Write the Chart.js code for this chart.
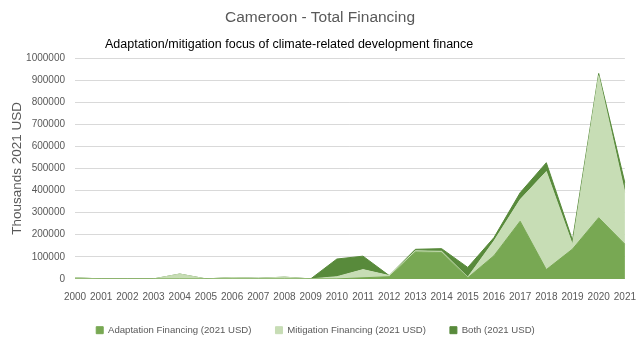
<!DOCTYPE html>
<html>
<head>
<meta charset="utf-8">
<script src="https://cdn.jsdelivr.net/npm/chart.js@4"></script>
<style>
  html, body { margin: 0; padding: 0; background: #fff; }
  #wrap { position: relative; width: 640px; height: 342px; font-family: "Liberation Sans", sans-serif; }
  #title { position: absolute; top: 8px; left: 0; width: 640px; text-align: center; font-size: 15.5px; color: #595959; }
  #subtitle { position: absolute; top: 37px; left: 105px; font-size: 12.5px; color: #000; }
  canvas { position: absolute; top: 0; left: 0; }
</style>
</head>
<body>
<div id="wrap">
  <canvas id="chart" width="640" height="342"></canvas>
  <div id="title">Cameroon - Total Financing</div>
  <div id="subtitle">Adaptation/mitigation focus of climate-related development finance</div>
</div>
<script>
const years = ['2000', '2001', '2002', '2003', '2004', '2005', '2006', '2007', '2008', '2009', '2010',
  '2011', '2012', '2013', '2014', '2015', '2016', '2017', '2018', '2019', '2020', '2021'];
const adaptation = [0, 0, 0, 0, 0, 0, 0, 0, 0, 0, 0,
  5000, 10000, 122000, 120000, 5000, 105000, 261000, 42000, 135000, 277000, 157000];
const mitigation = [5000, 0, 0, 0, 22000, 0, 6000, 3000, 8000, 0, 10000,
  37000, 5000, 5000, 5000, 3000, 67000, 98000, 444000, 20000, 643000, 233000];
const both = [0, 0, 0, 0, 0, 0, 0, 0, 0, 0, 80000,
  61000, 0, 7000, 12000, 44000, 15000, 31000, 40000, 20000, 10000, 45000];
const yTicks = [0, 100000, 200000, 300000, 400000, 500000, 600000, 700000, 800000, 900000, 1000000];

const font = "'Liberation Sans', sans-serif";
const grey = '#595959';

new Chart(document.getElementById('chart'), {
  type: 'line',
  data: {
    labels: years,
    datasets: [
      { label: 'Adaptation Financing (2021 USD)', data: adaptation, backgroundColor: '#78a853', borderColor: '#78a853', fill: 'origin' },
      { label: 'Mitigation Financing (2021 USD)', data: mitigation, backgroundColor: '#c7ddb5', borderColor: '#c7ddb5', fill: '-1' },
      { label: 'Both (2021 USD)', data: both, backgroundColor: '#588a3b', borderColor: '#588a3b', fill: '-1' }
    ]
  },
  options: {
    responsive: false,
    animation: false,
    layout: { padding: { left: 4, right: 13, top: 58, bottom: -3 } },
    elements: { point: { radius: 0 }, line: { tension: 0, borderWidth: 1 } },
    plugins: {
      legend: {
        position: 'bottom',
        labels: { boxWidth: 7, boxHeight: 7, color: grey, font: { family: font, size: 9.6 }, padding: 24 }
      },
      tooltip: { enabled: false }
    },
    scales: {
      x: {
        grid: { display: false },
        border: { color: '#d9d9d9' },
        ticks: { color: grey, font: { family: font, size: 10 }, maxRotation: 0, autoSkip: false, padding: 4 },
        afterFit: s => { s.height = 22.5; }
      },
      y: {
        stacked: true,
        min: 0,
        max: 1000000,
        afterBuildTicks: s => { s.ticks = yTicks.map(v => ({ value: v })); },
        grid: { color: '#d9d9d9', drawTicks: false },
        border: { display: false },
        ticks: { color: grey, font: { family: font, size: 10 }, padding: 10, callback: v => String(v) },
        title: { display: true, text: 'Thousands 2021 USD', color: grey, font: { family: font, size: 13.5 }, padding: { top: 5, bottom: 0 } },
        afterFit: s => { s.width = 71; }
      }
    }
  }
});
</script>
</body>
</html>
